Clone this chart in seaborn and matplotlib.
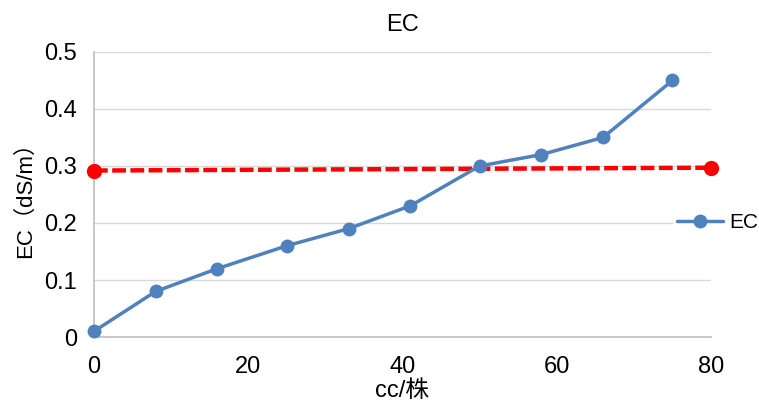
import matplotlib
matplotlib.use("Agg")
import matplotlib.pyplot as plt
import seaborn as sns
import pandas as pd

# Measured EC along the plant stock sequence
cc = [0, 8, 16, 25, 33, 41, 50, 58, 66, 75]
ec = [0.01, 0.08, 0.12, 0.16, 0.19, 0.23, 0.30, 0.32, 0.35, 0.45]

# Reference threshold line
ref_x = [0, 80]
ref_y = [0.292, 0.297]

sns.set_theme(style="white")
plt.rcParams["font.family"] = ["Liberation Sans", "Noto Sans CJK SC", "DejaVu Sans"]
plt.rcParams["text.color"] = "#000000"
plt.rcParams["axes.labelcolor"] = "#000000"

fig = plt.figure(figsize=(7.59, 4.09), dpi=100)
ax = fig.add_axes([0.1238, 0.176, 0.8130, 0.697])

df = pd.DataFrame({"cc": cc, "EC": ec})
ref = pd.DataFrame({"x": ref_x, "y": ref_y})

sns.lineplot(data=ref, x="x", y="y", ax=ax, color="#FF0000", linewidth=3.2,
             linestyle=(0, (3.1, 1.0)), marker="o", markersize=11,
             markeredgewidth=0, clip_on=False, zorder=3, legend=False)
sns.lineplot(data=df, x="cc", y="EC", ax=ax, color="#4F81BD", linewidth=2.5,
             marker="o", markersize=10, markeredgewidth=0, clip_on=False,
             zorder=4, label="EC")

ax.set_xlim(0, 80)
ax.set_ylim(0, 0.5)
ax.set_xticks([0, 20, 40, 60, 80])
ax.set_yticks([0, 0.1, 0.2, 0.3, 0.4, 0.5])
ax.set_yticklabels(["0", "0.1", "0.2", "0.3", "0.4", "0.5"])
ax.grid(axis="y", color="#D9D9D9", linewidth=1)
ax.grid(axis="x", visible=False)
for side in ["top", "right"]:
    ax.spines[side].set_visible(False)
for side in ["left", "bottom"]:
    ax.spines[side].set_color("#BFBFBF")
    ax.spines[side].set_linewidth(1.2)
ax.tick_params(axis="y", length=0, labelsize=17, colors="#000000", pad=12)
ax.tick_params(axis="x", length=0, labelsize=17, colors="#000000", pad=14)

ax.set_title("EC", fontsize=17, pad=15, color="#000000")
ax.set_xlabel("cc/株", fontsize=17, labelpad=1)
ax.set_ylabel("EC（dS/m）", fontsize=16, labelpad=6)

leg = ax.legend(loc="center left", bbox_to_anchor=(0.938, 0.4), frameon=True,
                facecolor="white", edgecolor="none", framealpha=1,
                fontsize=15, handlelength=2.2, handletextpad=0.3,
                borderpad=0.2, borderaxespad=0)

fig.savefig("out.png", dpi=100)
